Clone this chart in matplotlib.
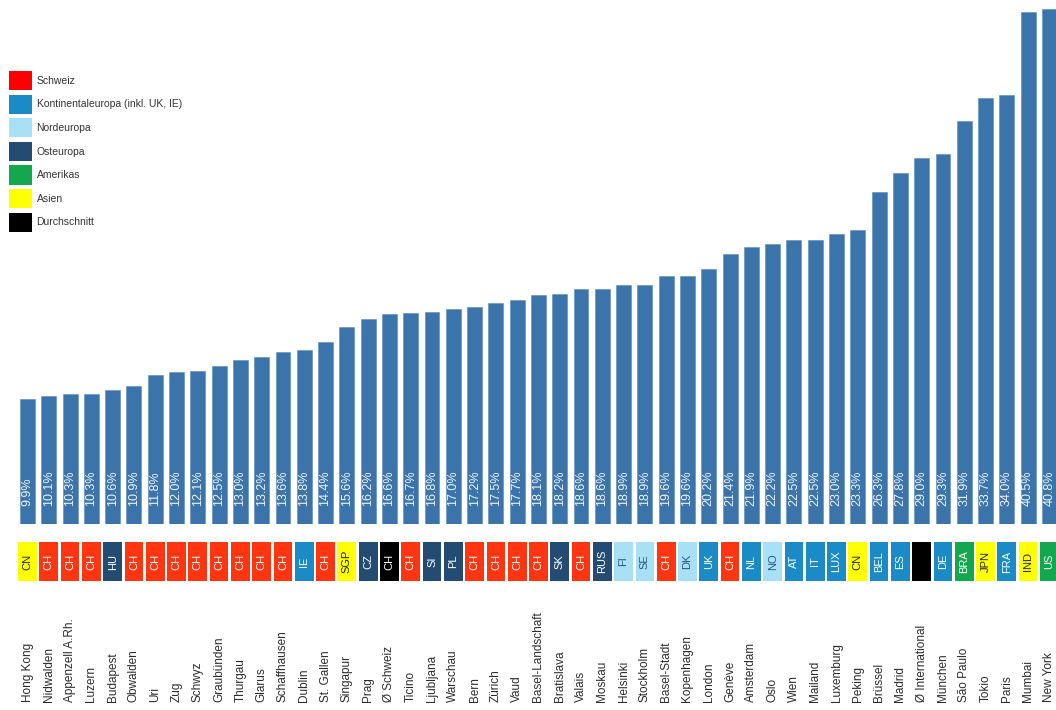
import matplotlib
matplotlib.use("Agg")
import matplotlib.pyplot as plt
from matplotlib.patches import Patch
from matplotlib.transforms import blended_transform_factory

# Städte / Kantone, Länderkürzel, Region und Wert (%)
cities = ["Hong Kong", "Nidwalden", "Appenzell A.Rh.", "Luzern", "Budapest", "Obwalden",
          "Uri", "Zug", "Schwyz", "Graubünden", "Thurgau", "Glarus", "Schaffhausen",
          "Dublin", "St. Gallen", "Singapur", "Prag", "Ø Schweiz", "Ticino", "Ljubljana",
          "Warschau", "Bern", "Zürich", "Vaud", "Basel-Landschaft", "Bratislava", "Valais",
          "Moskau", "Helsinki", "Stockholm", "Basel-Stadt", "Kopenhagen", "London", "Genève",
          "Amsterdam", "Oslo", "Wien", "Mailand", "Luxemburg", "Peking", "Brüssel", "Madrid",
          "Ø International", "München", "São Paulo", "Tokio", "Paris", "Mumbai", "New York"]
codes = ["CN", "CH", "CH", "CH", "HU", "CH", "CH", "CH", "CH", "CH", "CH", "CH", "CH",
         "IE", "CH", "SGP", "CZ", "CH", "CH", "SI", "PL", "CH", "CH", "CH", "CH", "SK", "CH",
         "RUS", "FI", "SE", "CH", "DK", "UK", "CH", "NL", "NO", "AT", "IT", "LUX", "CN",
         "BEL", "ES", "", "DE", "BRA", "JPN", "FRA", "IND", "US"]
regions = ["Asien", "Schweiz", "Schweiz", "Schweiz", "Osteuropa", "Schweiz", "Schweiz",
           "Schweiz", "Schweiz", "Schweiz", "Schweiz", "Schweiz", "Schweiz", "Kontinental",
           "Schweiz", "Asien", "Osteuropa", "Durchschnitt", "Schweiz", "Osteuropa",
           "Osteuropa", "Schweiz", "Schweiz", "Schweiz", "Schweiz", "Osteuropa", "Schweiz",
           "Osteuropa", "Nordeuropa", "Nordeuropa", "Schweiz", "Nordeuropa", "Kontinental",
           "Schweiz", "Kontinental", "Nordeuropa", "Kontinental", "Kontinental",
           "Kontinental", "Asien", "Kontinental", "Kontinental", "Durchschnitt",
           "Kontinental", "Amerikas", "Asien", "Kontinental", "Asien", "Amerikas"]
values = [9.9, 10.1, 10.3, 10.3, 10.6, 10.9, 11.8, 12.0, 12.1, 12.5, 13.0, 13.2, 13.6,
          13.8, 14.4, 15.6, 16.2, 16.6, 16.7, 16.8, 17.0, 17.2, 17.5, 17.7, 18.1, 18.2,
          18.6, 18.6, 18.9, 18.9, 19.6, 19.6, 20.2, 21.4, 21.9, 22.2, 22.5, 22.5, 23.0,
          23.3, 26.3, 27.8, 29.0, 29.3, 31.9, 33.7, 34.0, 40.5, 40.8]

legend_keys = ["Schweiz", "Kontinental", "Nordeuropa", "Osteuropa", "Amerikas", "Asien",
               "Durchschnitt"]
legend_labels = ["Schweiz", "Kontinentaleuropa (inkl. UK, IE)", "Nordeuropa", "Osteuropa",
                 "Amerikas", "Asien", "Durchschnitt"]

region_colors = {
    "Schweiz": "#ff3410",
    "Kontinental": "#1a8bc6",
    "Nordeuropa": "#a8e0f6",
    "Osteuropa": "#244b72",
    "Amerikas": "#13a84e",
    "Asien": "#ffff00",
    "Durchschnitt": "#000000",
}
code_text_colors = {
    "Asien": "#222222",
    "Nordeuropa": "#2a5580",
}
BAR_COLOR = "#3a74aa"

plt.rcParams["font.family"] = ["Liberation Sans", "DejaVu Sans"]

W, H = 1056, 710
fig = plt.figure(figsize=(W / 100, H / 100), dpi=100)

x = list(range(len(values)))
step = 21.29          # px pro Balken
x0 = 27.5             # Mitte des ersten Balkens in px
xlim = (-x0 / step, (W - x0) / step)

# Balken
bar_bottom_px, bar_top_px = 524, 0
px_per_pct = 12.63
ax = fig.add_axes([0, (H - bar_bottom_px) / H, 1, (bar_bottom_px - bar_top_px) / H])
ax.bar(x, values, width=0.70, color=BAR_COLOR, edgecolor="#5b8cbb", linewidth=0.4)
ax.set_xlim(*xlim)
ax.set_ylim(0, bar_bottom_px / px_per_pct)
ax.axis("off")

for xi, v in zip(x, values):
    ax.text(xi, 1.45, f"{v:.1f}%", rotation=90, ha="center", va="bottom",
            fontsize=9, color="#eef4fa")

# Länderkürzel-Streifen
strip_top, strip_bot = 542, 581
ax2 = fig.add_axes([0, (H - strip_bot) / H, 1, (strip_bot - strip_top) / H])
ax2.bar(x, [1] * len(x), width=0.88, bottom=0,
        color=[region_colors[r] for r in regions])
ax2.set_xlim(*xlim)
ax2.set_ylim(0, 1)
ax2.axis("off")
for xi, c, r in zip(x, codes, regions):
    if c:
        ax2.text(xi, 0.5, c, rotation=90, ha="center", va="center", fontsize=8,
                 color=code_text_colors.get(r, "white"))

# Städtenamen unten, von unten nach oben gelesen
trans = blended_transform_factory(ax.transData, fig.transFigure)
for xi, name in zip(x, cities):
    ax.text(xi, (H - 702) / H, name, rotation=90, ha="center", va="bottom",
            fontsize=8.5, color="#2b2b2b", transform=trans, clip_on=False)

# Legende
handles = [Patch(facecolor=region_colors[k], edgecolor="none") for k in legend_keys]
handles[0] = Patch(facecolor="#ff0000", edgecolor="none")
fig.legend(handles, legend_labels, loc="upper left",
           bbox_to_anchor=(9 / W, 1 - 71 / H), frameon=False, fontsize=7.5,
           handlelength=2.2, handleheight=2.45, labelspacing=0.43,
           handletextpad=0.45, borderaxespad=0, borderpad=0, labelcolor="#333333")

fig.savefig("out.png", dpi=100)
